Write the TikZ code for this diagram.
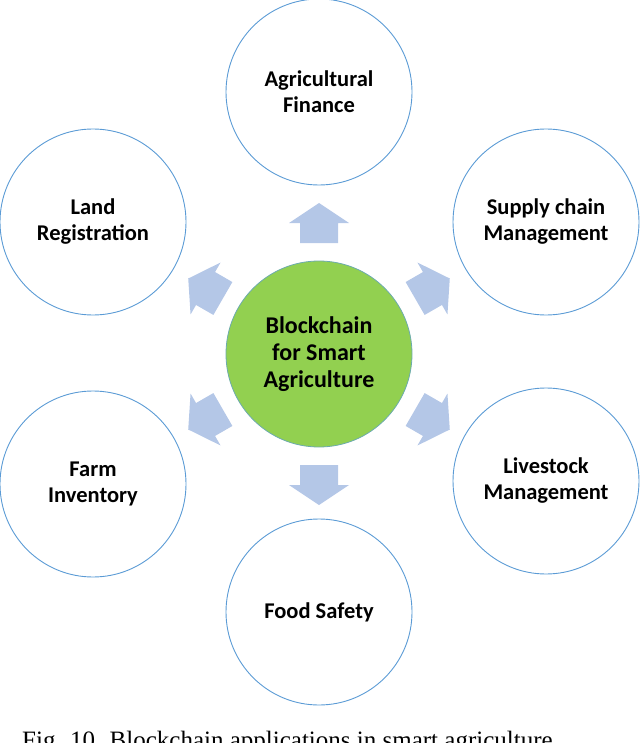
\documentclass[tikz,border=0pt]{standalone}
\usepackage{fontspec}
\setmainfont{Carlito}
\newfontfamily\capfont{Liberation Serif}
\definecolor{ringblue}{RGB}{91,155,213}
\definecolor{arrowblue}{RGB}{180,199,231}
\definecolor{leaf}{RGB}{146,208,80}
\begin{document}
\begin{tikzpicture}[x=1pt,y=1pt,
  outer/.style={circle,draw=ringblue,line width=0.9pt,minimum size=186pt,align=center,font=\bfseries\fontsize{22.5}{26}\selectfont,text=black},
  hub/.style={circle,draw=ringblue!70!leaf,fill=leaf,line width=0.8pt,minimum size=186pt,align=center,font=\bfseries\fontsize{24}{27}\selectfont},
  blockarrow/.style={fill=arrowblue,draw=none}]
\useasboundingbox (0,0) rectangle (640,-743);
\node[hub] (c) at (319,-354) {Blockchain\\for Smart\\Agriculture};
\node[outer] (af) at (319,-92) {Agricultural\\Finance};
\node[outer] (lr) at (93,-222) {Land\\Registration};
\node[outer] (sc) at (546,-222) {Supply chain\\Management};
\node[outer] (fi) at (93,-484) {Farm\\Inventory};
\node[outer] (lm) at (546,-481) {Livestock\\Management};
\node[outer] (fs) at (319,-612) {Food Safety};
\foreach \a in {90,150,30,210,330,270}{
  \begin{scope}[shift={(c.center)},rotate=\a]
    \fill[blockarrow] (111,-19) -- (131,-19) -- (131,-30) -- (151,0) -- (131,30) -- (131,19) -- (111,19) -- cycle;
  \end{scope}}
\node[anchor=north west,inner sep=0,font=\capfont\fontsize{25}{28}\selectfont] (cap) at (22,-731) {Fig. 10. Blockchain applications in smart agriculture};
\end{tikzpicture}
\end{document}
